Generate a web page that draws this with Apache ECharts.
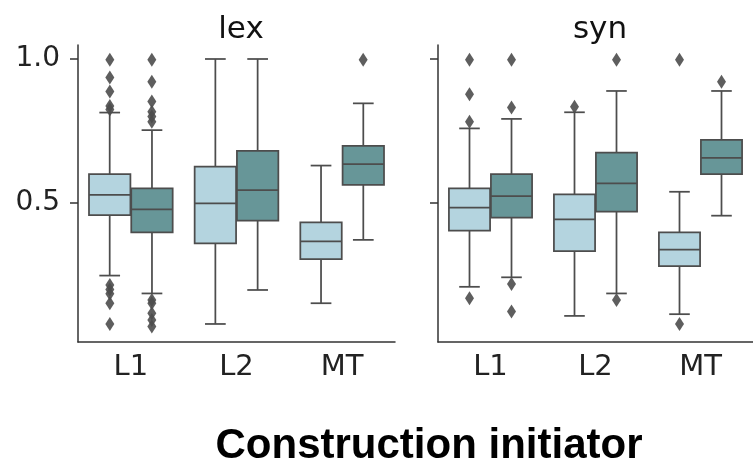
<!DOCTYPE html>
<html>
<head>
<meta charset="utf-8">
<script src="https://cdn.jsdelivr.net/npm/echarts@6/dist/echarts.min.js"></script>
<style>
  html, body { margin: 0; padding: 0; background: #fff; }
  #chart { width: 753px; height: 461px; }
</style>
</head>
<body>
<div id="chart"></div>
<script>
// categories and tick labels
const categories = ['L1', 'L2', 'MT']
const yTicks = [0.5, 1.0]

// box stats per category: [lower whisker, Q1, median, Q3, upper whisker]
const lexLight = [
  [0.248, 0.458, 0.528, 0.600, 0.814],
  [0.080, 0.360, 0.499, 0.626, 1.000],
  [0.152, 0.305, 0.367, 0.433, 0.630]
]
const lexDark = [
  [0.186, 0.398, 0.478, 0.551, 0.753],
  [0.198, 0.439, 0.545, 0.681, 1.000],
  [0.372, 0.563, 0.635, 0.698, 0.846]
]
const synLight = [
  [0.209, 0.404, 0.484, 0.551, 0.759],
  [0.108, 0.333, 0.443, 0.530, 0.815],
  [0.114, 0.281, 0.338, 0.398, 0.539]
]
const synDark = [
  [0.242, 0.449, 0.524, 0.600, 0.792],
  [0.186, 0.470, 0.568, 0.675, 0.889],
  [0.456, 0.600, 0.657, 0.719, 0.889]
]

// outliers: [category index, value]
const lexLightOut = [
  [0, 0.997], [0, 0.936], [0, 0.887], [0, 0.837], [0, 0.825],
  [0, 0.215], [0, 0.200], [0, 0.185], [0, 0.152], [0, 0.080]
]
const lexDarkOut = [
  [0, 0.997], [0, 0.921], [0, 0.852], [0, 0.817], [0, 0.800], [0, 0.782],
  [0, 0.163], [0, 0.152], [0, 0.117], [0, 0.094], [0, 0.071],
  [2, 0.997]
]
const synLightOut = [
  [0, 0.997], [0, 0.878], [0, 0.782], [0, 0.169],
  [1, 0.834],
  [2, 0.997], [2, 0.080]
]
const synDarkOut = [
  [0, 0.997], [0, 0.832], [0, 0.219], [0, 0.123],
  [1, 0.997], [1, 0.163],
  [2, 0.921]
]

const lightColor = '#b4d4df'
const darkColor = '#679698'
const edgeColor = '#4d4d4d'
const axisColor = '#333'

const chart = echarts.init(document.getElementById('chart'))

// seaborn-like box: half-width caps, median line across the box
function boxRender(side, fill) {
  return function (params, api) {
    const cat = api.value(0)
    const band = api.size([1, 0])[0]
    const boxW = band * 0.392
    const capW = boxW / 2
    const cx = api.coord([cat, 0])[0] + side * band * 0.2
    const y = i => api.coord([cat, api.value(i)])[1]
    const lineStyle = { stroke: edgeColor, lineWidth: 1.75 }
    return {
      type: 'group',
      children: [
        { type: 'line', shape: { x1: cx, y1: y(1), x2: cx, y2: y(2) }, style: lineStyle },
        { type: 'line', shape: { x1: cx, y1: y(4), x2: cx, y2: y(5) }, style: lineStyle },
        { type: 'line', shape: { x1: cx - capW / 2, y1: y(1), x2: cx + capW / 2, y2: y(1) }, style: lineStyle },
        { type: 'line', shape: { x1: cx - capW / 2, y1: y(5), x2: cx + capW / 2, y2: y(5) }, style: lineStyle },
        { type: 'rect', shape: { x: cx - boxW / 2, y: y(4), width: boxW, height: y(2) - y(4) },
          style: { fill: fill, stroke: edgeColor, lineWidth: 1.75 } },
        { type: 'line', shape: { x1: cx - boxW / 2, y1: y(3), x2: cx + boxW / 2, y2: y(3) }, style: lineStyle }
      ]
    }
  }
}

function boxSeries(stats, idx, side, fill) {
  return {
    type: 'custom',
    xAxisIndex: idx,
    yAxisIndex: idx,
    renderItem: boxRender(side, fill),
    encode: { x: 0, y: [1, 2, 3, 4, 5] },
    data: stats.map((s, i) => [i].concat(s)),
    silent: true
  }
}

function outlierSeries(points, idx, side) {
  return {
    type: 'scatter',
    xAxisIndex: idx,
    yAxisIndex: idx,
    symbol: 'diamond',
    symbolSize: [9, 14],
    symbolOffset: [side * 21, 0],
    itemStyle: { color: edgeColor, opacity: 0.9 },
    data: points,
    silent: true
  }
}

function xAxis(idx) {
  return {
    type: 'category',
    gridIndex: idx,
    data: categories,
    axisLine: { lineStyle: { color: axisColor, width: 1.5 } },
    axisTick: { alignWithLabel: true, length: 8, lineStyle: { color: axisColor, width: 1.5 } },
    axisLabel: { margin: 11, fontSize: 29, color: '#222', fontFamily: 'DejaVu Sans' },
    splitLine: { show: false }
  }
}

function yAxis(idx, showLabels) {
  return {
    type: 'value',
    gridIndex: idx,
    min: 0.0174,
    max: 1.0486,
    axisLine: { show: true, lineStyle: { color: axisColor, width: 1.5 } },
    axisTick: { show: true, length: 8, customValues: yTicks, lineStyle: { color: axisColor, width: 1.5 } },
    axisLabel: {
      show: showLabels,
      customValues: yTicks,
      margin: 18,
      fontSize: 28,
      color: '#222',
      fontFamily: 'DejaVu Sans',
      formatter: v => v.toFixed(1)
    },
    splitLine: { show: false }
  }
}

chart.setOption({
  animation: false,
  title: [
    { text: 'lex', left: 236, top: 9, textAlign: 'center',
      textStyle: { fontSize: 31, fontWeight: 'normal', color: '#111', fontFamily: 'DejaVu Sans' } },
    { text: 'syn', left: 595, top: 9, textAlign: 'center',
      textStyle: { fontSize: 31, fontWeight: 'normal', color: '#111', fontFamily: 'DejaVu Sans' } },
    { text: 'Construction initiator', left: 424, top: 420, textAlign: 'center',
      textStyle: { fontSize: 42, fontWeight: 'bold', color: '#000', fontFamily: 'Liberation Sans' } }
  ],
  grid: [
    { left: 78, top: 45, width: 317, height: 297 },
    { left: 438, top: 45, width: 315, height: 297 }
  ],
  xAxis: [xAxis(0), xAxis(1)],
  yAxis: [yAxis(0, true), yAxis(1, false)],
  series: [
    boxSeries(lexLight, 0, -1, lightColor),
    boxSeries(lexDark, 0, 1, darkColor),
    boxSeries(synLight, 1, -1, lightColor),
    boxSeries(synDark, 1, 1, darkColor),
    outlierSeries(lexLightOut, 0, -1),
    outlierSeries(lexDarkOut, 0, 1),
    outlierSeries(synLightOut, 1, -1),
    outlierSeries(synDarkOut, 1, 1)
  ]
})
</script>
</body>
</html>
